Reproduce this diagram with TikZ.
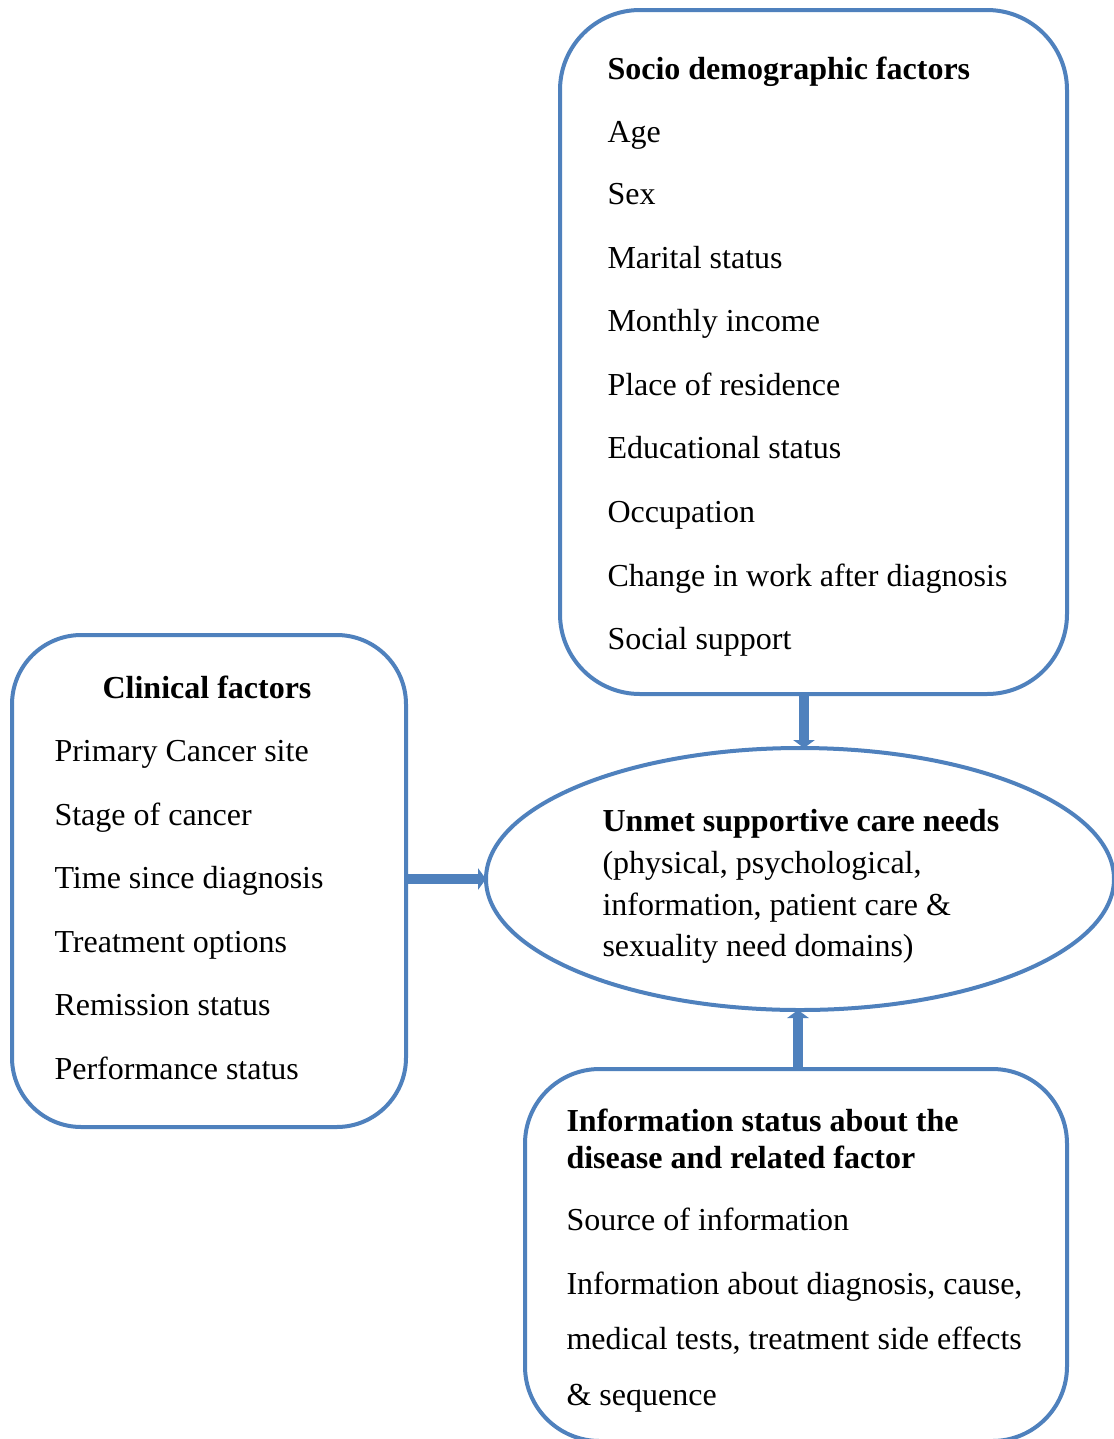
\documentclass[tikz,border=0pt]{standalone}
\usepackage{fontspec}
\setmainfont{Liberation Serif}
\usetikzlibrary{arrows.meta,shapes.geometric}
\definecolor{ofblue}{RGB}{79,129,189}
\tikzset{
  px/.style={x=0.375pt,y=-0.375pt},
  frame/.style={draw=ofblue,line width=1.5pt,inner sep=0pt,outer sep=0pt},
  txt/.style={anchor=base west,inner sep=0pt,font=\fontsize{12}{14}\selectfont},
  btxt/.style={txt,font=\fontsize{12}{14}\selectfont\bfseries},
  conn/.style={draw=ofblue,line width=3.4pt,-{Triangle[width=8pt,length=3pt]}}
}
\begin{document}
\begin{tikzpicture}[px]
\clip (0,0) rectangle (1114,1439);
\fill[white] (0,0) rectangle (1114,1439);
% boxes
\node[frame,rounded corners=30pt,minimum width=507*0.375pt,minimum height=684*0.375pt] (socio) at (813.5,352) {};
\node[frame,rounded corners=26pt,minimum width=394*0.375pt,minimum height=492*0.375pt] (clin) at (209,881) {};
\node[frame,rounded corners=28pt,minimum width=542*0.375pt,minimum height=372*0.375pt] (info) at (796,1255) {};
\node[frame,ellipse,minimum width=628*0.375pt,minimum height=262*0.375pt] (ell) at (800,879) {};
% connectors
\coordinate (tc) at (804,0);
\coordinate (bc) at (798,0);
\draw[conn] (tc |- socio.south) -- (tc |- ell.north);
\draw[conn] (clin.east |- ell.west) -- (ell.west);
\draw[conn] (bc |- info.north) -- (bc |- ell.south);
% socio texts
\node[btxt] (s0) at (607,79) {Socio demographic factors};
\node[txt] (s1) at (607,142) {Age};
\node[txt] (s2) at (607,204) {Sex};
\node[txt] (s3) at (607,268) {Marital status};
\node[txt] (s4) at (607,331) {Monthly income};
\node[txt] (s5) at (607,395) {Place of residence};
\node[txt] (s6) at (607,458) {Educational status};
\node[txt] (s7) at (607,522) {Occupation};
\node[txt] (s8) at (607,586) {Change in work after diagnosis};
\node[txt] (s9) at (607,649) {Social support};
% clinical texts
\node[btxt,anchor=base] (c0) at (207,698) {Clinical factors};
\node[txt] (c1) at (54,761) {Primary Cancer site};
\node[txt] (c2) at (54,825) {Stage of cancer};
\node[txt] (c3) at (54,888) {Time since diagnosis};
\node[txt] (c4) at (54,952) {Treatment options};
\node[txt] (c5) at (54,1015) {Remission status};
\node[txt] (c6) at (54,1079) {Performance status};
% ellipse texts
\node[btxt] (e0) at (602,831) {Unmet supportive care needs};
\node[txt] (e1) at (602,873) {(physical, psychological,};
\node[txt] (e2) at (602,915) {information, patient care \&};
\node[txt] (e3) at (602,956) {sexuality need domains)};
% info texts
\node[btxt] (i0) at (566,1131) {Information status about the};
\node[btxt] (i1) at (566,1168) {disease and related factor};
\node[txt] (i2) at (566,1230) {Source of information};
\node[txt] (i3) at (566,1294) {Information about diagnosis, cause,};
\node[txt] (i4) at (566,1349) {medical tests, treatment side effects};
\node[txt] (i5) at (566,1405) {\& sequence};
\end{tikzpicture}
\end{document}
